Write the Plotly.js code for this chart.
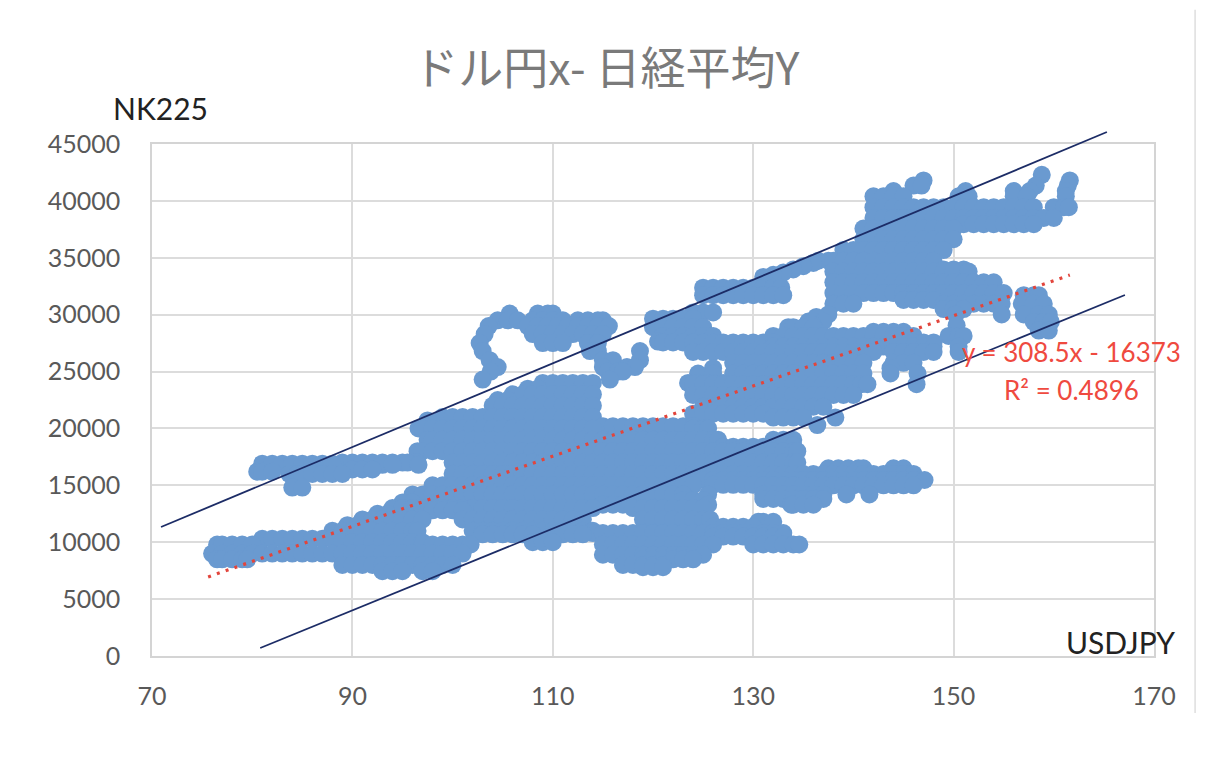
<!DOCTYPE html>
<html><head><meta charset="utf-8">
<script src="https://cdn.plot.ly/plotly-3.0.1.min.js"></script>
<style>html,body{margin:0;padding:0;background:#fff}</style></head>
<body><div id="chart" style="width:1220px;height:758px"></div>
<script>
// Readings: [NK225 level, [USDJPY readings at that level]]
const topRows = [
[42290,[158.8]],
[41800,[147,161.6]],
[41350,[146,146.8,158.2,161.4]],
[40870,[144,151.2,156,157.6,161.2]],
[40400,[142,143,144,145,150.5,151.5,156,157.3,161.2]],
[39450,[142,143,144,145,146,147,148,149,150,151,152,153,154,155,156,157,158,160,161,161.5]],
[38500,[142,143,144,145,146,147,148,149,150,151,152,153,154,155,156,157,158,159,160]],
[37950,[151,152,153,154,155,156,157,158]],
[37570,[141,142,143,144,145,146,147,148,149,150]],
[36630,[141,142,143,144,145,146,147,148,149,150]],
[35680,[139,140,141,142,143,144,145,146,147,148,149]],
[34740,[136.5,137.5,138,139,140,141,142,143,144,145,146,147,148]],
[34550,[136]],[34260,[135]],[33980,[134,149,150,151]],[33700,[133]],[33510,[132]],[33320,[131]],
[33790,[138,139,140,141,142,143,144,145,146,147,148,149,150,151.5]],
[32850,[138,139,140,141,142,143,144,145,146,147,148,149,150,151,152,153,154]],
[32370,[125,126,127,128,129,130,131,132,132.8]],
[31900,[138,139,140,141,142,143,144,145,146,147,148,149,150,151,152,153,154,155]],
[31710,[125,126,127,128,129,130,131,132,133,157,158,158.5]]
];
const rightRows = [
[31300,[145,146,147,148]],
[30960,[138,139,140,149,150,151,152,153,154,154.8,156.8,158,159]],
[30490,[149,150,151]],
[30200,[124,125,126]],
[30020,[137.5,150.2,154.8,157,158.5,159.5]],
[29800,[136.3]],
[29650,[120,121,122,123,124]],
[29400,[135.5,136,137]],
[29360,[158,159,159.7]],
[29070,[136,150.3]],
[28900,[120,121,122,123,124,125,133.5,134,135,136]],
[28600,[158.5,159.5]],
[28500,[142,143,144,145]],
[28130,[121,122,123,124,125,126,132,133,134,135,136,137,138,139,140,141,142,143,144,145,146,149.5,150.5,151]],
[27640,[120.5]],
[27560,[121,122,123,124,125,126,127,128,129,130,131,132,146,147,148]],
[27200,[132,133,134,135,136,137,138,139,140,141,142,143,144,145,146,147,148,150.5]],
[26720,[124,125,126,127,128,129,130,131,132,133,134,135,136,137,138,139,140,141,142,144,145,146,147,148,150.5]],
[25770,[128,129,130,131,132,133,134,135,136,137,138,139,140,141,144,145,146]],
[25300,[126,143.7]],
[24830,[124.5,126,128,129,130,131,132,133,134,135,136,137,138,139,140,141,143.7,146.4]],
[24000,[123.5,124,125,126,127]],
[23890,[124,125,126,127,128,129,130,131,132,133,134,135,136,137,138,139,140,140.8,141.4,146.3]],
[22950,[124,125,126,127,128,129,130,131,132,133,134,135,136,137,138,139,140]],
[21910,[125,126,127,128,129,130,131,132,133,134,135,136,137]],
[21300,[124,125,126,127,128,129,130,131]],
[20960,[132,133,134,135,138.2]],
[20300,[136.4]]
];
const loopRows = [
[30100,[105.7,108.5,109.5,110]],
[29500,[104.5,105.5,106.5,108,109,110,111,112.5,113.5,114.5,115]],
[29000,[103.6,107.5,108.5,109.5,110.5,111.5,112.5,113.5,114.5,115.6]],
[28300,[103.2,108,109,110,111,112,113,114,115]],
[27500,[102.7,109,110,111,113.5,114.5]],
[26800,[103,113.7,114.5,118.7]],
[26000,[103.7,115,116,118.7]],
[25400,[104.5,115,117.4,118.2]],
[25000,[103.8,115.5,116.5,117]],
[24300,[103,115.7]]
];
const bodyRows = [
[24000,[109,110,111,112,113,114]],
[23500,[107.5,108.5]],
[23000,[106,107,108,109,110,111,112,113,114]],
[22500,[104.5,105.5]],
[22000,[104,105,106,107,108,109,110,111,112,113,114]],
[21000,[99,100,101,102,103,104,105,106,107,108,109,110,111,112,113,114]],
[20700,[97.5]],
[20200,[115,116,117,118,119,120,121,122,123,124]],
[20000,[96.6,97,98,99,100,101,102,103,104,105,106,107,108,109,110,111,112,113,114,124,125,125.5]],
[19000,[97.5,98,99,100,101,102,103,104,105,106,107,108,109,110,111,112,113,114,115,116,117,118,119,120,121,122,123,124,125,126,126.5,132,133,134]],
[18500,[132,133,134]],
[18400,[127,128,129,130,131]],
[18000,[96.5,97,98,99,100,101,102,103,104,105,106,107,108,109,110,111,112,113,114,115,116,117,118,119,120,121,122,123,124,125,126,127,128,129,130,131,132,133,134,134.4]],
[17000,[96.5,100,101,102,103,104,105,106,107,108,109,110,111,112,113,114,115,116,117,118,119,120,121,122,123,124,125,126,127,128,129,130,131,132,133,134,134.4]],
[16500,[137.5,138.5,139.5,140.5,141,144,145]],
[16000,[100,101,102,103,104,105,106,107,108,109,110,111,112,113,114,115,116,117,118,119,120,121,122,123,124,125,126,127,128,129,130,131,132,133,134,135,136,137,138,139,140,141,142,143,144,145,146]],
[15470,[125,126,127,128,129,130,131,132,133,134,135,136,137,138,139,140,141,142,143,144,145,146,147.1]],
[15050,[126,127,128,129,130]],
[15000,[98,99,100,101,102,103,104,105,106,107,108,109,110,111,112,113,114,115,116,117,118,119,120,121,122,123,124,131,132,133,134,135,136,137,138,139,140,141,142,143,144,145,146]],
[14200,[96,97,98,99,100,101,102,103,104,105,106,107,108,109,110,111,112,113,114,115,116,117,118,119,120,121,122,123,125.5,131,132,133,134,135,136,137,139.3,141.6]],
[13800,[131,132,133,134,135,136,137]],
[13700,[123,124,125]],
[13500,[95,96]],
[13300,[115,116,117,125.5,133.8,134,135,136]],
[13000,[94,95,96,97,98,99,100,101,102,103,104,105,106,107,108,109,110,111,112,113,114,118,119,120,121,122,123,124,125]],
[12800,[98,99,100,101]],
[12500,[92.5,93.5]],
[12000,[91,92,93,94,95,96,97,101,102,103,104,105,106,107,108,109,110,111,112,113,119,120,121,122,123,124,125,125.7]],
[11790,[130.5,131,132]],
[11500,[89.5,90.5]],
[11350,[126,127,128,129,130]],
[11000,[88,89,90,91,92,93,94,95,96,96.5,102,103,104,105,106,107,108,109,110,111,112,113,114]],
[10800,[114,115,116,117,118,119,120,121,122,123,124,125,126,127,128,129,130,131,132,133]],
[10700,[103,104,105,106,107,108,110,111,112,113]],
[10500,[126,127,128,129,130,131,132,133]],
[10300,[81,82,83,84,85,86,87,88]],
[10000,[89,90,91,92,93,94,95,96,97,108,109,110]],
[9800,[76.5,77,78,79,80,97,98,99,100,101,101.8,115,116,117,118,119,120,121,122,123,124,125,126,130,131,132,133,134,134.6]],
[9000,[76,77,78,79,80,81,82,83,84,85,86,87,88,89,90,91,92,93,94,95,96,97,98,99,100,101]],
[8900,[115,116,117,118,119,120,121,122,123,124,125]],
[8500,[76.5,77,78,79,79.5,119,120,121,122,123,124]],
[8000,[89,90,91,92,93,94,95,96,97,98,99,100,117,118,119,120,121]],
[7800,[119,120,121]],
[7450,[93,94,95,97,98]]
];
const tailRows = [
[17000,[89,90,91,92,93,94,95,95.5]],
[16900,[81,82,83,84,85,86,87,88]],
[16800,[93,94,96.6]],
[16400,[90,91,92]],
[16200,[80.5,81,82]],
[16000,[83.7,84.5,85,86,87,88,89]],
[14800,[84,85]]
];
const upperBandX = [70.9,165.3];
const upperBandY = [11340,46050];
const lowerBandX = [80.8,167.1];
const lowerBandY = [700,31730];
const trendX = [75.6,161.6];
const trendY = [6950,33480];
const xTicks = [70,90,110,130,150,170];
const yTicks = [0,5000,10000,15000,20000,25000,30000,35000,40000,45000];

const usdjpy = [], nk225 = [];
[topRows,rightRows,loopRows,bodyRows,tailRows].forEach(group => group.forEach(r => r[1].forEach(v => {usdjpy.push(v); nk225.push(r[0]);})));

const lineStyle = {color:'#1c2c66',width:1.8};
const data = [
 {type:'scatter',mode:'markers',x:usdjpy,y:nk225,marker:{size:18,color:'#6a9ad0',line:{width:0}},hoverinfo:'x+y'},
 {type:'scatter',mode:'lines',xaxis:'x2',yaxis:'y2',x:upperBandX,y:upperBandY,line:lineStyle},
 {type:'scatter',mode:'lines',xaxis:'x2',yaxis:'y2',x:lowerBandX,y:lowerBandY,line:lineStyle},
 {type:'scatter',mode:'lines',xaxis:'x2',yaxis:'y2',x:trendX,y:trendY,line:{color:'#e2453c',width:3.2,dash:'3px,6.3px'}}
];
const axisCommon = {showgrid:true,gridcolor:'#dcdcdc',gridwidth:1.6,zeroline:false,showline:true,mirror:true,linecolor:'#d4d4d4',linewidth:1.6,ticks:'',tickformat:'d',
  tickfont:{family:'Lato, "Noto Sans", sans-serif',size:25,color:'#595959'}};
const layout = {
 width:1220,height:758,showlegend:false,paper_bgcolor:'#fff',plot_bgcolor:'rgba(0,0,0,0)',
 margin:{l:152,r:66,t:120,b:102,pad:0},
 title:{text:'ドル円x- 日経平均Y',font:{family:'"Noto Sans CJK JP", sans-serif',size:45,color:'#7a7a7a'},x:0.497,xanchor:'center',y:0.909,yanchor:'middle'},
 xaxis:Object.assign({},axisCommon,{range:[70,170],tickvals:xTicks,ticklabelstandoff:17,anchor:'y'}),
 yaxis:Object.assign({},axisCommon,{range:[0,45000],tickvals:yTicks,ticklabelstandoff:25,domain:[0,0.9552],anchor:'x'}),
 xaxis2:{range:[70,170],visible:false,anchor:'y2'},
 yaxis2:{range:[0,47108],visible:false,domain:[0,1],anchor:'x2'},
 shapes:[{type:'line',xref:'paper',yref:'paper',x0:1.041,x1:1.041,y0:-0.1062,y1:1.2056,line:{color:'#dedede',width:1.5}}],
 annotations:[
  {text:'NK225',xref:'paper',yref:'paper',x:-0.041,y:1.0224,xanchor:'left',yanchor:'middle',showarrow:false,font:{family:'Lato, sans-serif',size:30,color:'#222'}},
  {text:'USDJPY',xref:'paper',yref:'paper',x:0.91,y:0.0267,xanchor:'left',yanchor:'middle',showarrow:false,font:{family:'Lato, sans-serif',size:30,color:'#222'}},
  {text:'y = 308.5x - 16373',xref:'paper',yref:'paper',x:0.918,y:0.5674,xanchor:'center',yanchor:'middle',showarrow:false,font:{family:'Lato, sans-serif',size:26,color:'#ef4a3f'}},
  {text:'R² = 0.4896',xref:'paper',yref:'paper',x:0.918,y:0.4967,xanchor:'center',yanchor:'middle',showarrow:false,font:{family:'Lato, sans-serif',size:26,color:'#ef4a3f'}}
 ]
};
Plotly.newPlot('chart',data,layout,{displayModeBar:false,responsive:false});
</script></body></html>
